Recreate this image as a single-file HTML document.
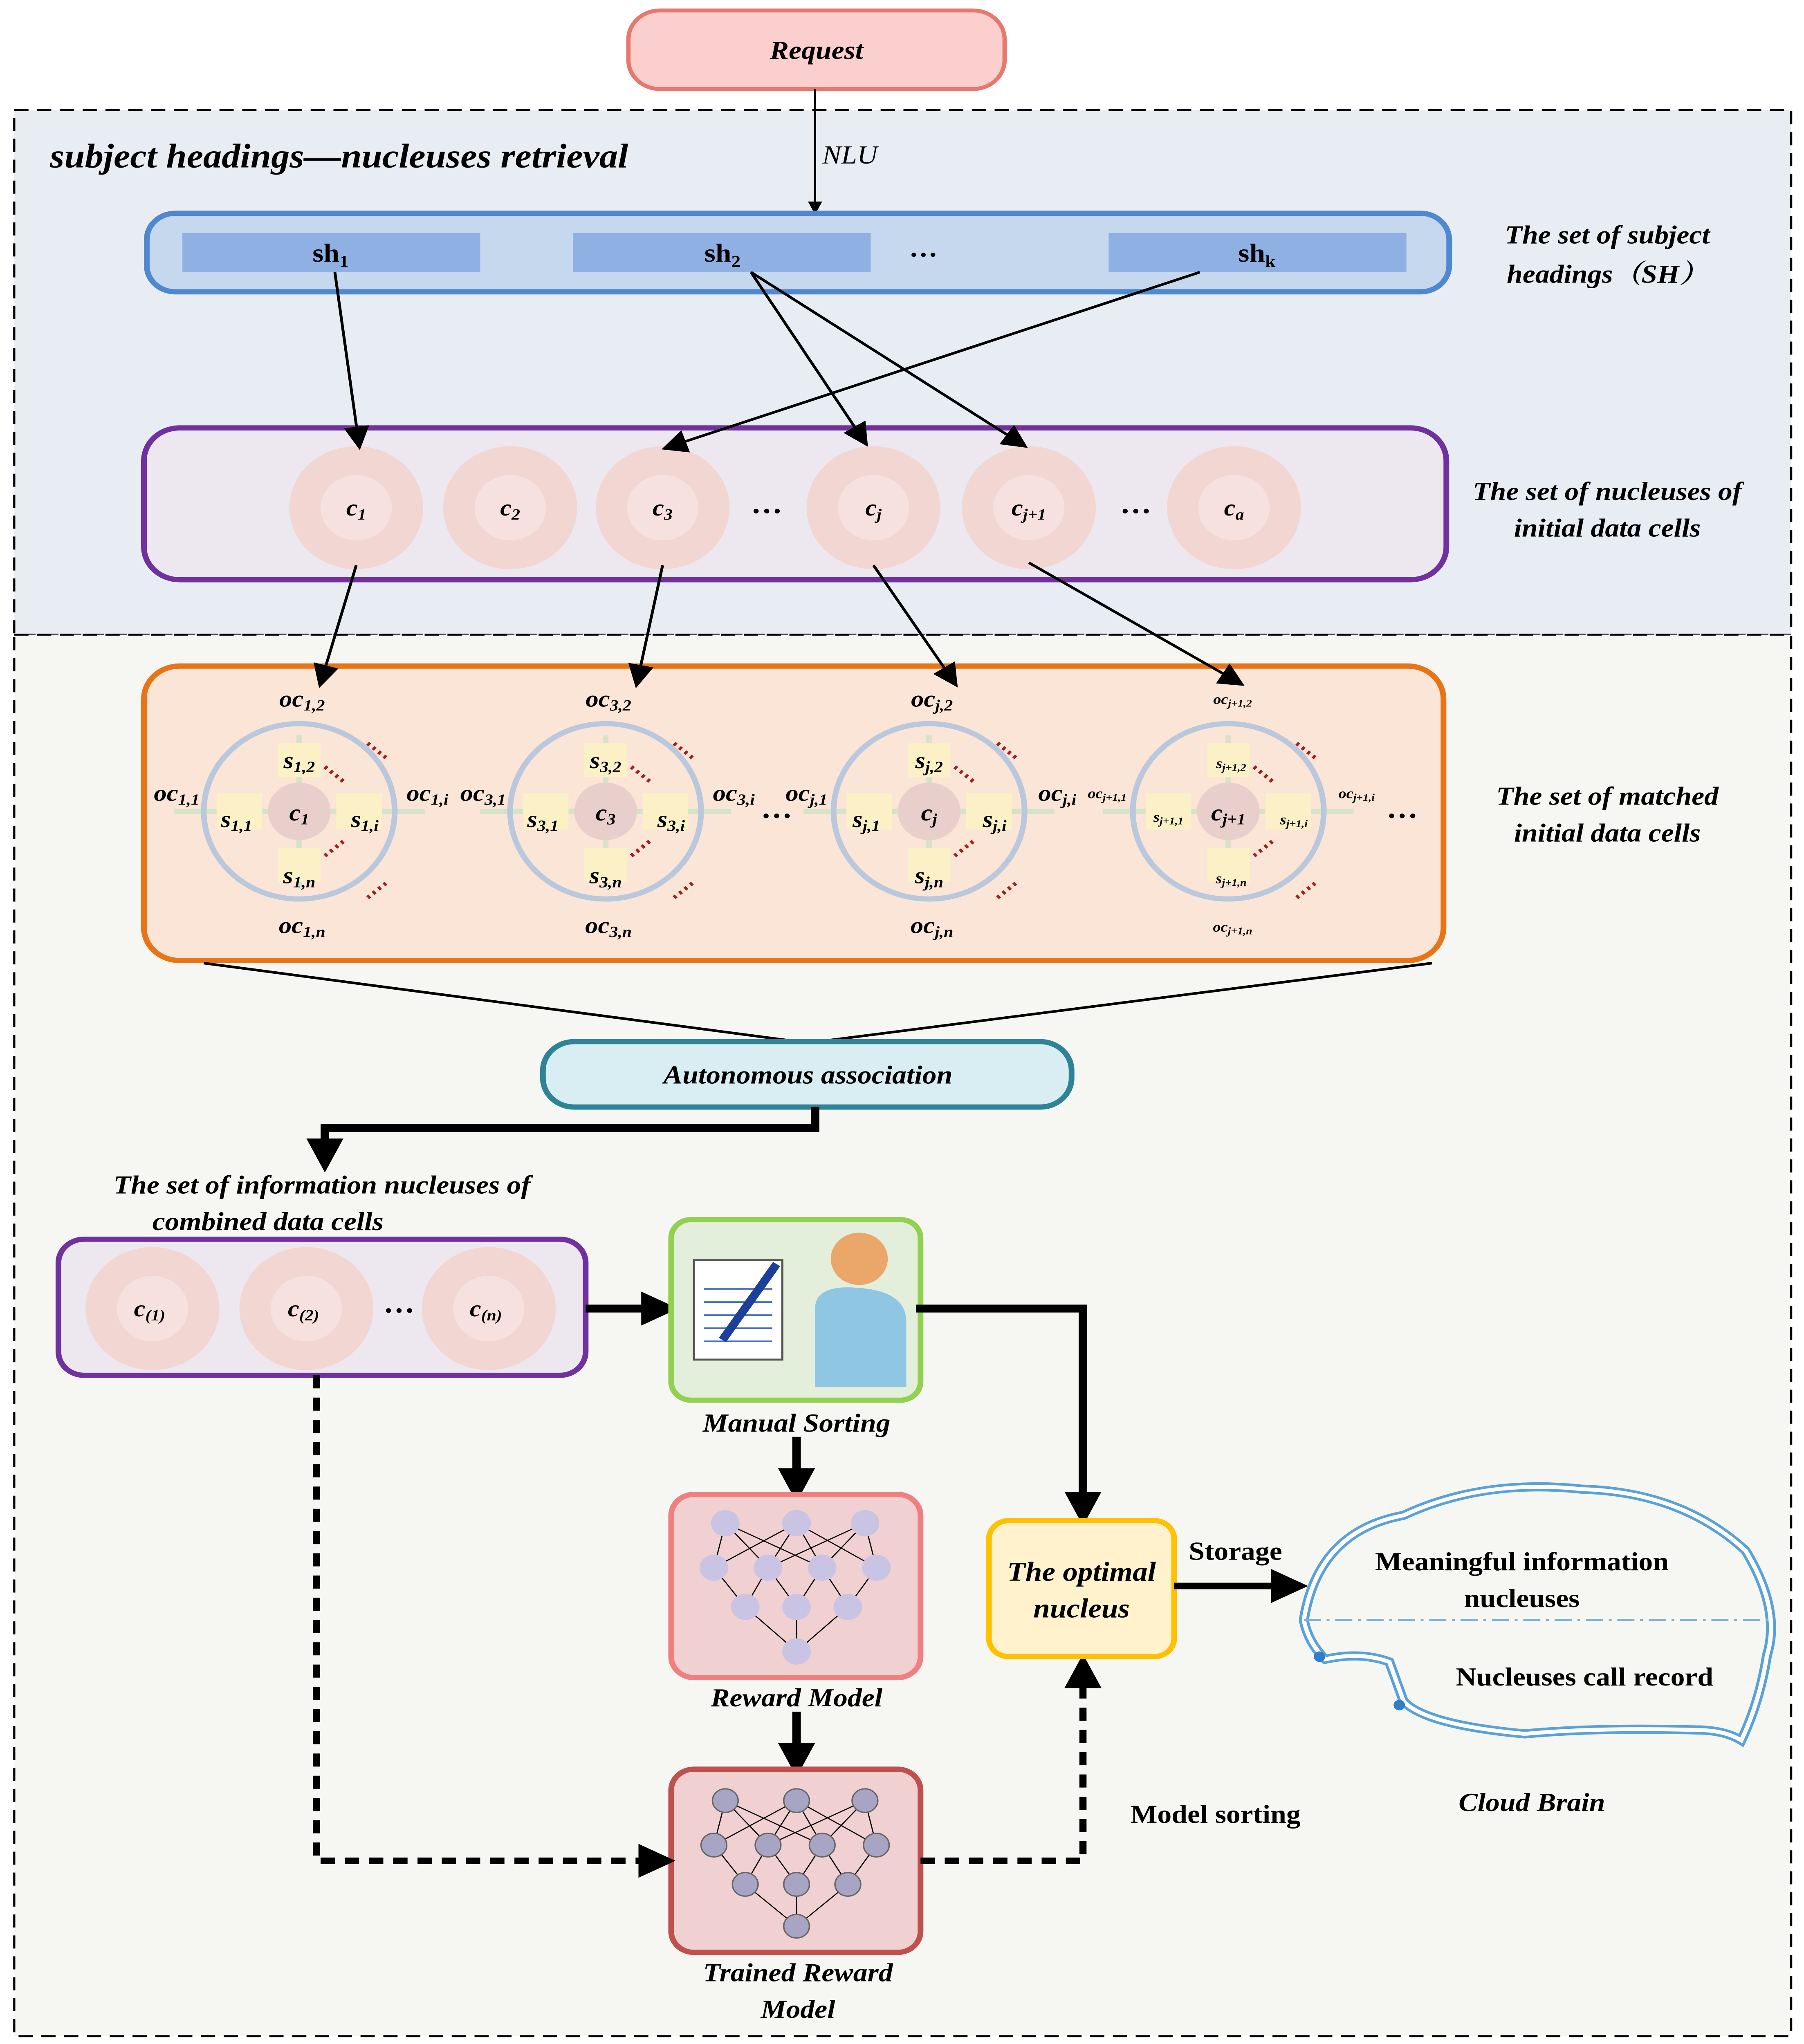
<!DOCTYPE html>
<html><head><meta charset="utf-8"><style>
html,body{margin:0;padding:0;background:#fff;width:100%;height:100%;overflow:hidden;}
svg{display:block;position:absolute;left:0;top:0;width:100vw;height:100vh;}
text{font-family:"Liberation Serif","Noto Serif CJK SC",serif;font-weight:bold;font-style:italic;fill:#000;}
.n{font-style:normal;}
</style></head><body>
<svg viewBox="0 0 1266 1562" preserveAspectRatio="none" xmlns="http://www.w3.org/2000/svg">
<defs>
<marker id="a" markerWidth="10" markerHeight="10" refX="8" refY="5" orient="auto" markerUnits="userSpaceOnUse"><path d="M0,0 L10,5 L0,10 z" fill="#000"/></marker>
<marker id="b" markerWidth="18" markerHeight="18" refX="14" refY="9" orient="auto" markerUnits="userSpaceOnUse"><path d="M0,0 L18,9 L0,18 z" fill="#000"/></marker>
<marker id="c" markerWidth="26" markerHeight="26" refX="20" refY="13" orient="auto" markerUnits="userSpaceOnUse"><path d="M0,0 L26,13 L0,26 z" fill="#000"/></marker>
</defs>
<rect width="1266" height="1562" fill="#fff"/>
<rect x="10" y="84" width="1247" height="401" fill="#e8edf4" stroke="#000" stroke-width="1.5" stroke-dasharray="10,6"/>
<rect x="10" y="485" width="1247" height="1071" fill="#f6f7f2" stroke="#000" stroke-width="1.5" stroke-dasharray="10,6"/>
<rect x="441" y="8" width="264" height="60" rx="22" fill="#fccfcf" stroke="#e8776e" stroke-width="3"/>
<text x="573" y="45" font-size="20" text-anchor="middle">Request</text>
<text x="35" y="128" font-size="26">subject headings—nucleuses retrieval</text>
<line x1="572" y1="68" x2="572" y2="162" stroke="#000" stroke-width="1.5" marker-end="url(#a)"/>
<text x="577" y="125" font-size="20" style="font-weight:normal">NLU</text>
<rect x="103" y="163" width="914" height="60" rx="20" fill="#c6d8ee" stroke="#4f87d0" stroke-width="4"/>
<rect x="128" y="178" width="209" height="30" fill="#8eb0e3"/>
<rect x="402" y="178" width="209" height="30" fill="#8eb0e3"/>
<rect x="778" y="178" width="209" height="30" fill="#8eb0e3"/>
<text x="232" y="200" font-size="20" text-anchor="middle" class="n">sh<tspan font-size="13" dy="4">1</tspan></text>
<text x="507" y="200" font-size="20" text-anchor="middle" class="n">sh<tspan font-size="13" dy="4">2</tspan></text>
<text x="882" y="200" font-size="20" text-anchor="middle" class="n">sh<tspan font-size="13" dy="4">k</tspan></text>
<text x="648" y="196" font-size="20" text-anchor="middle" class="n">…</text>
<text x="1128" y="186" font-size="20" text-anchor="middle">The set of subject</text>
<text x="1128" y="216" font-size="20" text-anchor="middle">headings（SH）</text>
<rect x="101" y="327" width="914" height="116" rx="25" fill="#ede8f0" stroke="#7030a0" stroke-width="4"/>
<g fill="#f2d6d2"><circle cx="250" cy="388" r="47"/><circle cx="358" cy="388" r="47"/><circle cx="465" cy="388" r="47"/><circle cx="613" cy="388" r="47"/><circle cx="722" cy="388" r="47"/><circle cx="866" cy="388" r="47"/></g>
<g fill="#f6e1de"><circle cx="250" cy="388" r="25"/><circle cx="358" cy="388" r="25"/><circle cx="465" cy="388" r="25"/><circle cx="613" cy="388" r="25"/><circle cx="722" cy="388" r="25"/><circle cx="866" cy="388" r="25"/></g>
<g font-size="18" style="font-weight:normal" text-anchor="middle">
<text x="250" y="394">c<tspan font-size="12" dy="3">1</tspan></text>
<text x="358" y="394">c<tspan font-size="12" dy="3">2</tspan></text>
<text x="465" y="394">c<tspan font-size="12" dy="3">3</tspan></text>
<text x="613" y="394">c<tspan font-size="12" dy="3">j</tspan></text>
<text x="722" y="394">c<tspan font-size="12" dy="3">j+1</tspan></text>
<text x="866" y="394">c<tspan font-size="12" dy="3">a</tspan></text>
</g>
<text x="538" y="392" font-size="22" class="n" text-anchor="middle">…</text>
<text x="797" y="392" font-size="22" class="n" text-anchor="middle">…</text>
<text x="1128" y="382" font-size="20" text-anchor="middle">The set of nucleuses of</text>
<text x="1128" y="410" font-size="20" text-anchor="middle">initial data cells</text>
<g stroke="#000" stroke-width="2" marker-end="url(#b)">
<line x1="235" y1="208" x2="252" y2="340"/>
<line x1="527" y1="208" x2="607" y2="338"/>
<line x1="527" y1="208" x2="718" y2="340"/>
<line x1="842" y1="208" x2="468" y2="342"/>
</g>
<rect x="101" y="509" width="912" height="225" rx="25" fill="#fbe5d6" stroke="#e97417" stroke-width="4"/>
<g stroke="#000" stroke-width="2" marker-end="url(#b)">
<line x1="250" y1="432" x2="225" y2="522"/>
<line x1="465" y1="432" x2="447" y2="522"/>
<line x1="613" y1="432" x2="670" y2="522"/>
<line x1="722" y1="430" x2="870" y2="522"/>
</g>
<text x="1128" y="615" font-size="20" text-anchor="middle">The set of matched</text>
<text x="1128" y="643" font-size="20" text-anchor="middle">initial data cells</text>
<g style="font-weight:normal">
<g transform="translate(210,620)">
<line x1="-88" y1="0" x2="88" y2="0" stroke="#d6e3c8" stroke-width="4"/><line x1="0" y1="-58" x2="0" y2="58" stroke="#d6e3c8" stroke-width="4"/>
<circle r="67" fill="none" stroke="#b9c8dc" stroke-width="4"/><circle r="22" fill="#e9cfcc"/>
<g fill="#fbf0c6"><rect x="-15" y="-52" width="30" height="26"/><rect x="-15" y="28" width="30" height="26"/><rect x="-58" y="-14" width="32" height="28"/><rect x="26" y="-14" width="32" height="28"/></g>
</g>
<g transform="translate(425,620)">
<line x1="-88" y1="0" x2="88" y2="0" stroke="#d6e3c8" stroke-width="4"/><line x1="0" y1="-58" x2="0" y2="58" stroke="#d6e3c8" stroke-width="4"/>
<circle r="67" fill="none" stroke="#b9c8dc" stroke-width="4"/><circle r="22" fill="#e9cfcc"/>
<g fill="#fbf0c6"><rect x="-15" y="-52" width="30" height="26"/><rect x="-15" y="28" width="30" height="26"/><rect x="-58" y="-14" width="32" height="28"/><rect x="26" y="-14" width="32" height="28"/></g>
</g>
<g transform="translate(652,620)">
<line x1="-88" y1="0" x2="88" y2="0" stroke="#d6e3c8" stroke-width="4"/><line x1="0" y1="-58" x2="0" y2="58" stroke="#d6e3c8" stroke-width="4"/>
<circle r="67" fill="none" stroke="#b9c8dc" stroke-width="4"/><circle r="22" fill="#e9cfcc"/>
<g fill="#fbf0c6"><rect x="-15" y="-52" width="30" height="26"/><rect x="-15" y="28" width="30" height="26"/><rect x="-58" y="-14" width="32" height="28"/><rect x="26" y="-14" width="32" height="28"/></g>
</g>
<g transform="translate(862,620)">
<line x1="-88" y1="0" x2="88" y2="0" stroke="#d6e3c8" stroke-width="4"/><line x1="0" y1="-58" x2="0" y2="58" stroke="#d6e3c8" stroke-width="4"/>
<circle r="67" fill="none" stroke="#b9c8dc" stroke-width="4"/><circle r="22" fill="#e9cfcc"/>
<g fill="#fbf0c6"><rect x="-15" y="-52" width="30" height="26"/><rect x="-15" y="28" width="30" height="26"/><rect x="-58" y="-14" width="32" height="28"/><rect x="26" y="-14" width="32" height="28"/></g>
</g>
<g fill="none" stroke="#a02020" stroke-width="3" stroke-dasharray="2,3">
<path d="M258,568 l14,12"/><path d="M228,586 l14,12"/><path d="M228,654 l14,-12"/><path d="M258,686 l14,-12"/>
<path d="M473,568 l14,12"/><path d="M443,586 l14,12"/><path d="M443,654 l14,-12"/><path d="M473,686 l14,-12"/>
<path d="M700,568 l14,12"/><path d="M670,586 l14,12"/><path d="M670,654 l14,-12"/><path d="M700,686 l14,-12"/>
<path d="M910,568 l14,12"/><path d="M880,586 l14,12"/><path d="M880,654 l14,-12"/><path d="M910,686 l14,-12"/>
</g>
<g text-anchor="middle" font-size="18">
<text x="210" y="627">c<tspan font-size="12" dy="3">1</tspan></text>
<text x="210" y="587">s<tspan font-size="12" dy="3">1,2</tspan></text>
<text x="210" y="675">s<tspan font-size="12" dy="3">1,n</tspan></text>
<text x="166" y="632">s<tspan font-size="12" dy="3">1,1</tspan></text>
<text x="256" y="632">s<tspan font-size="12" dy="3">1,i</tspan></text>
<text x="212" y="540">oc<tspan font-size="12" dy="3">1,2</tspan></text>
<text x="212" y="713">oc<tspan font-size="12" dy="3">1,n</tspan></text>
<text x="124" y="612">oc<tspan font-size="12" dy="3">1,1</tspan></text>
<text x="300" y="612">oc<tspan font-size="12" dy="3">1,i</tspan></text>
<text x="425" y="627">c<tspan font-size="12" dy="3">3</tspan></text>
<text x="425" y="587">s<tspan font-size="12" dy="3">3,2</tspan></text>
<text x="425" y="675">s<tspan font-size="12" dy="3">3,n</tspan></text>
<text x="381" y="632">s<tspan font-size="12" dy="3">3,1</tspan></text>
<text x="471" y="632">s<tspan font-size="12" dy="3">3,i</tspan></text>
<text x="427" y="540">oc<tspan font-size="12" dy="3">3,2</tspan></text>
<text x="427" y="713">oc<tspan font-size="12" dy="3">3,n</tspan></text>
<text x="339" y="612">oc<tspan font-size="12" dy="3">3,1</tspan></text>
<text x="515" y="612">oc<tspan font-size="12" dy="3">3,i</tspan></text>
<text x="652" y="627">c<tspan font-size="12" dy="3">j</tspan></text>
<text x="652" y="587">s<tspan font-size="12" dy="3">j,2</tspan></text>
<text x="652" y="675">s<tspan font-size="12" dy="3">j,n</tspan></text>
<text x="608" y="632">s<tspan font-size="12" dy="3">j,1</tspan></text>
<text x="698" y="632">s<tspan font-size="12" dy="3">j,i</tspan></text>
<text x="654" y="540">oc<tspan font-size="12" dy="3">j,2</tspan></text>
<text x="654" y="713">oc<tspan font-size="12" dy="3">j,n</tspan></text>
<text x="566" y="612">oc<tspan font-size="12" dy="3">j,1</tspan></text>
<text x="742" y="612">oc<tspan font-size="12" dy="3">j,i</tspan></text>
<text x="862" y="627">c<tspan font-size="12" dy="3">j+1</tspan></text>
<text x="864" y="587" font-size="11">s<tspan font-size="8" dy="2">j+1,2</tspan></text>
<text x="864" y="675" font-size="11">s<tspan font-size="8" dy="2">j+1,n</tspan></text>
<text x="820" y="628" font-size="11">s<tspan font-size="8" dy="2">j+1,1</tspan></text>
<text x="908" y="630" font-size="11">s<tspan font-size="8" dy="2">j+1,i</tspan></text>
<text x="865" y="538" font-size="11">oc<tspan font-size="8" dy="2">j+1,2</tspan></text>
<text x="865" y="712" font-size="11">oc<tspan font-size="8" dy="2">j+1,n</tspan></text>
<text x="777" y="610" font-size="11">oc<tspan font-size="8" dy="2">j+1,1</tspan></text>
<text x="952" y="610" font-size="11">oc<tspan font-size="8" dy="2">j+1,i</tspan></text>
</g>
</g>
<text x="545" y="625" font-size="22" class="n" text-anchor="middle">…</text>
<text x="984" y="625" font-size="22" class="n" text-anchor="middle">…</text>
<polyline points="143,736 567,797 1005,736" fill="none" stroke="#000" stroke-width="2"/>
<rect x="381" y="796" width="371" height="50" rx="22" fill="#d9eef3" stroke="#2e8496" stroke-width="4"/>
<text x="567" y="828" font-size="20" text-anchor="middle">Autonomous association</text>
<polyline points="572,846 572,862 228,862 228,890" fill="none" stroke="#000" stroke-width="6" marker-end="url(#c)"/>
<text x="226" y="912" font-size="20" text-anchor="middle">The set of information nucleuses of</text>
<text x="188" y="940" font-size="20" text-anchor="middle">combined data cells</text>
<rect x="41" y="947" width="370" height="104" rx="18" fill="#ede8f0" stroke="#7030a0" stroke-width="4"/>
<g fill="#f2d6d2"><circle cx="107" cy="1000" r="47"/><circle cx="215" cy="1000" r="47"/><circle cx="343" cy="1000" r="47"/></g>
<g fill="#f6e1de"><circle cx="107" cy="1000" r="25"/><circle cx="215" cy="1000" r="25"/><circle cx="343" cy="1000" r="25"/></g>
<g font-size="18" style="font-weight:normal" text-anchor="middle">
<text x="105" y="1006">c<tspan font-size="12" dy="3">(1)</tspan></text>
<text x="213" y="1006">c<tspan font-size="12" dy="3">(2)</tspan></text>
<text x="341" y="1006">c<tspan font-size="12" dy="3">(n)</tspan></text>
</g>
<text x="280" y="1003" font-size="22" class="n" text-anchor="middle">…</text>
<line x1="411" y1="1000" x2="470" y2="1000" stroke="#000" stroke-width="6" marker-end="url(#c)"/>
<rect x="471" y="932" width="175" height="138" rx="14" fill="#e3eedb" stroke="#92d050" stroke-width="4"/>
<rect x="487" y="963" width="62" height="76" fill="#fff" stroke="#555" stroke-width="1.5"/>
<g stroke="#4a6fc0" stroke-width="1.2"><line x1="494" y1="985" x2="542" y2="985"/><line x1="494" y1="995" x2="542" y2="995"/><line x1="494" y1="1005" x2="542" y2="1005"/><line x1="494" y1="1015" x2="542" y2="1015"/><line x1="494" y1="1025" x2="542" y2="1025"/></g>
<line x1="545" y1="966" x2="507" y2="1024" stroke="#1c3f99" stroke-width="6"/>
<circle cx="603" cy="962" r="20" fill="#eba66a"/>
<path d="M572,1060 L572,1000 Q572,982 600,984 Q636,986 636,1010 L636,1060 Z" fill="#8fc6e4"/>
<text x="559" y="1094" font-size="20" text-anchor="middle">Manual Sorting</text>
<polyline points="643,1000 760,1000 760,1160" fill="none" stroke="#000" stroke-width="6" marker-end="url(#c)"/>
<line x1="559" y1="1098" x2="559" y2="1142" stroke="#000" stroke-width="6" marker-end="url(#c)"/>
<rect x="471" y="1142" width="175" height="140" rx="16" fill="#f0d0d0" stroke="#f08080" stroke-width="4"/>
<g stroke="#000" stroke-width="0.8">
<path d="M509,1164 L501,1198 M509,1164 L539,1198 M509,1164 L577,1198 M559,1164 L501,1198 M559,1164 L539,1198 M559,1164 L577,1198 M559,1164 L615,1198 M607,1164 L539,1198 M607,1164 L577,1198 M607,1164 L615,1198 M501,1198 L523,1228 M539,1198 L523,1228 M539,1198 L559,1228 M577,1198 L559,1228 M577,1198 L595,1228 M615,1198 L595,1228 M523,1228 L559,1262 M559,1228 L559,1262 M595,1228 L559,1262"/>
</g>
<g fill="#c9c3e4"><circle cx="509" cy="1164" r="10"/><circle cx="559" cy="1164" r="10"/><circle cx="607" cy="1164" r="10"/><circle cx="501" cy="1198" r="10"/><circle cx="539" cy="1198" r="10"/><circle cx="577" cy="1198" r="10"/><circle cx="615" cy="1198" r="10"/><circle cx="523" cy="1228" r="10"/><circle cx="559" cy="1228" r="10"/><circle cx="595" cy="1228" r="10"/><circle cx="559" cy="1262" r="10"/></g>
<text x="559" y="1304" font-size="20" text-anchor="middle">Reward Model</text>
<line x1="559" y1="1308" x2="559" y2="1352" stroke="#000" stroke-width="6" marker-end="url(#c)"/>
<rect x="471" y="1352" width="175" height="140" rx="16" fill="#f0d0d0" stroke="#c0504d" stroke-width="4"/>
<g stroke="#000" stroke-width="0.8">
<path d="M509,1376 L501,1410 M509,1376 L539,1410 M509,1376 L577,1410 M559,1376 L501,1410 M559,1376 L539,1410 M559,1376 L577,1410 M559,1376 L615,1410 M607,1376 L539,1410 M607,1376 L577,1410 M607,1376 L615,1410 M501,1410 L523,1440 M539,1410 L523,1440 M539,1410 L559,1440 M577,1410 L559,1440 M577,1410 L595,1440 M615,1410 L595,1440 M523,1440 L559,1472 M559,1440 L559,1472 M595,1440 L559,1472"/>
</g>
<g fill="#a8a4c4" stroke="#666" stroke-width="1"><circle cx="509" cy="1376" r="9"/><circle cx="559" cy="1376" r="9"/><circle cx="607" cy="1376" r="9"/><circle cx="501" cy="1410" r="9"/><circle cx="539" cy="1410" r="9"/><circle cx="577" cy="1410" r="9"/><circle cx="615" cy="1410" r="9"/><circle cx="523" cy="1440" r="9"/><circle cx="559" cy="1440" r="9"/><circle cx="595" cy="1440" r="9"/><circle cx="559" cy="1472" r="9"/></g>
<text x="560" y="1514" font-size="20" text-anchor="middle">Trained Reward</text>
<text x="560" y="1542" font-size="20" text-anchor="middle">Model</text>
<polyline points="222,1051 222,1422 468,1422" fill="none" stroke="#000" stroke-width="5" stroke-dasharray="10,7" marker-end="url(#c)"/>
<polyline points="646,1422 760,1422 760,1270" fill="none" stroke="#000" stroke-width="5" stroke-dasharray="10,7" marker-end="url(#c)"/>
<text x="853" y="1393" font-size="20" class="n" text-anchor="middle">Model sorting</text>
<rect x="694" y="1162" width="130" height="104" rx="14" fill="#fff2cc" stroke="#ffc000" stroke-width="4"/>
<text x="759" y="1208" font-size="21" text-anchor="middle">The optimal</text>
<text x="759" y="1236" font-size="21" text-anchor="middle">nucleus</text>
<line x1="824" y1="1212" x2="912" y2="1212" stroke="#000" stroke-width="5" marker-end="url(#c)"/>
<text x="867" y="1192" font-size="20" class="n" text-anchor="middle">Storage</text>
<path d="M915,1238 Q925,1170 985,1158 Q1040,1130 1110,1138 Q1180,1140 1225,1185 Q1250,1230 1240,1265 Q1235,1300 1222,1330 Q1210,1322 1190,1322 Q1120,1320 1070,1325 Q1000,1318 985,1300 L975,1270 Q955,1262 930,1268 Q918,1255 915,1238 Z" fill="none" stroke="#5aa1d8" stroke-width="7"/>
<path d="M915,1238 Q925,1170 985,1158 Q1040,1130 1110,1138 Q1180,1140 1225,1185 Q1250,1230 1240,1265 Q1235,1300 1222,1330 Q1210,1322 1190,1322 Q1120,1320 1070,1325 Q1000,1318 985,1300 L975,1270 Q955,1262 930,1268 Q918,1255 915,1238 Z" fill="none" stroke="#fff" stroke-width="3"/>
<circle cx="926" cy="1266" r="4" fill="#2e7fc8"/><circle cx="982" cy="1303" r="4" fill="#2e7fc8"/>
<line x1="915" y1="1238" x2="1245" y2="1238" stroke="#7fb3d8" stroke-width="1.5" stroke-dasharray="12,4,2,4"/>
<text x="1068" y="1200" font-size="20" class="n" text-anchor="middle">Meaningful information</text>
<text x="1068" y="1228" font-size="20" class="n" text-anchor="middle">nucleuses</text>
<text x="1112" y="1288" font-size="20" class="n" text-anchor="middle">Nucleuses call record</text>
<text x="1075" y="1384" font-size="20" text-anchor="middle">Cloud Brain</text>
</svg>
</body></html>
